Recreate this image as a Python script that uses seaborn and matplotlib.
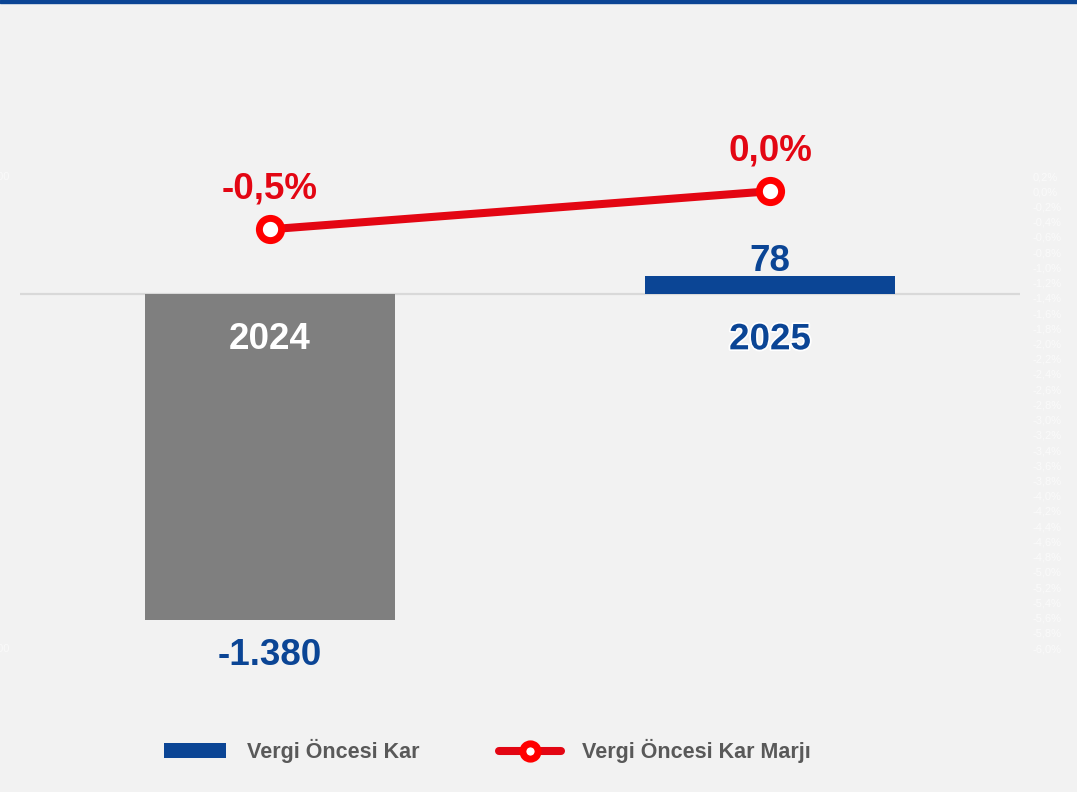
import matplotlib.pyplot as plt
import matplotlib.patheffects as pe
from matplotlib.lines import Line2D
from matplotlib.patches import Patch, Rectangle
import numpy as np
import pandas as pd
import seaborn as sns

# data
years = ["2024", "2025"]
profit = [-1380, 78]                 # Vergi Öncesi Kar
margin = [-0.005, 0.000]             # Vergi Öncesi Kar Marjı
profit_labels = ["-1.380", "78"]
margin_labels = ["-0,5%", "0,0%"]

BLUE = "#0b4595"
GREY = "#7f7f7f"
RED = "#e30613"
BG = "#f2f2f2"

sns.set_theme(style="white")
plt.rcParams["font.family"] = ["Liberation Sans", "DejaVu Sans"]

df = pd.DataFrame({"year": years, "profit": profit, "margin": margin,
                   "pos": np.arange(len(years))})

fig = plt.figure(figsize=(10.77, 7.92), dpi=100, facecolor=BG)
ax = fig.add_axes([20 / 1077, 1 - 648 / 792, 1000 / 1077, 472 / 792])
ax.set_facecolor(BG)

sns.barplot(data=df, x="year", y="profit", hue="year", palette=[GREY, BLUE],
            width=0.5, legend=False, ax=ax, saturation=1, linewidth=0)
ax.axhline(0, color="#d9d9d9", lw=1.6, zorder=0)
ax.set_xlim(-0.5, 1.5)
ax.set_ylim(-1500, 500)
ax.set_yticks([-1500, 500])
ax.set_yticklabels(["-1.500", "500"])
ax.tick_params(axis="y", colors="#fafafa", labelsize=8, length=0, pad=7)
ax.set_xticks([])
ax.set_xlabel("")
ax.set_ylabel("")
for s in ax.spines.values():
    s.set_visible(False)

# line on secondary axis
ax2 = ax.twinx()
sns.lineplot(data=df, x="pos", y="margin", ax=ax2, color=RED, lw=5.8,
             marker="o", markersize=16, markerfacecolor="white",
             markeredgecolor="#ff0000", markeredgewidth=5, legend=False)
ax2.set_ylim(-0.06, 0.002)
ticks = np.arange(-60, 3, 2) / 1000
ax2.set_yticks(ticks)
ax2.set_yticklabels([f"{t*100:.1f}%".replace(".", ",") for t in ticks])
ax2.tick_params(axis="y", colors="#fafafa", labelsize=8, length=0, pad=9)
ax2.set_xlabel("")
ax2.set_ylabel("")
for s in ax2.spines.values():
    s.set_visible(False)
ax2.set_xlim(-0.5, 1.5)

# category labels
cat_colors = ["white", BLUE]
for i, y in enumerate(years):
    t = ax.annotate(y, (i, 0), xytext=(0, -33), textcoords="offset points",
                    ha="center", va="center", fontsize=26.5, fontweight="bold",
                    color=cat_colors[i])
    if i == 1:
        t.set_path_effects([pe.withStroke(linewidth=2.5, foreground="white")])

# bar values
for i, v in enumerate(profit):
    off = -26 if v < 0 else 10
    ax.annotate(profit_labels[i], (i, v), xytext=(0, off), textcoords="offset points",
                ha="center", va="center", fontsize=26.5, fontweight="bold", color=BLUE)

# margin values
for i, m in enumerate(margin):
    ax2.annotate(margin_labels[i], (i, m), xytext=(0, 22), textcoords="offset points",
                 ha="center", va="baseline", fontsize=26.5, fontweight="bold", color=RED)

# top border
fig.patches.append(Rectangle((0, 1 - 3 / 792), 1, 3 / 792, transform=fig.transFigure,
                             color=BLUE, zorder=5))

handles = [Patch(facecolor=BLUE, edgecolor="none"),
           Line2D([], [], color=RED, lw=5.8, marker="o", markersize=11,
                  markerfacecolor="white", markeredgecolor="#ff0000", markeredgewidth=5)]
leg = fig.legend(handles, ["Vergi Öncesi Kar", "Vergi Öncesi Kar Marjı"],
                 loc="center", bbox_to_anchor=(487 / 1077, 1 - 751 / 792), ncol=2,
                 frameon=False, handlelength=2.9, handleheight=0.7, handletextpad=0.95,
                 columnspacing=3.7, prop={"weight": "bold", "size": 15.5})
for t in leg.get_texts():
    t.set_color("#595959")

plt.savefig("out.png", dpi=100, facecolor=BG)
